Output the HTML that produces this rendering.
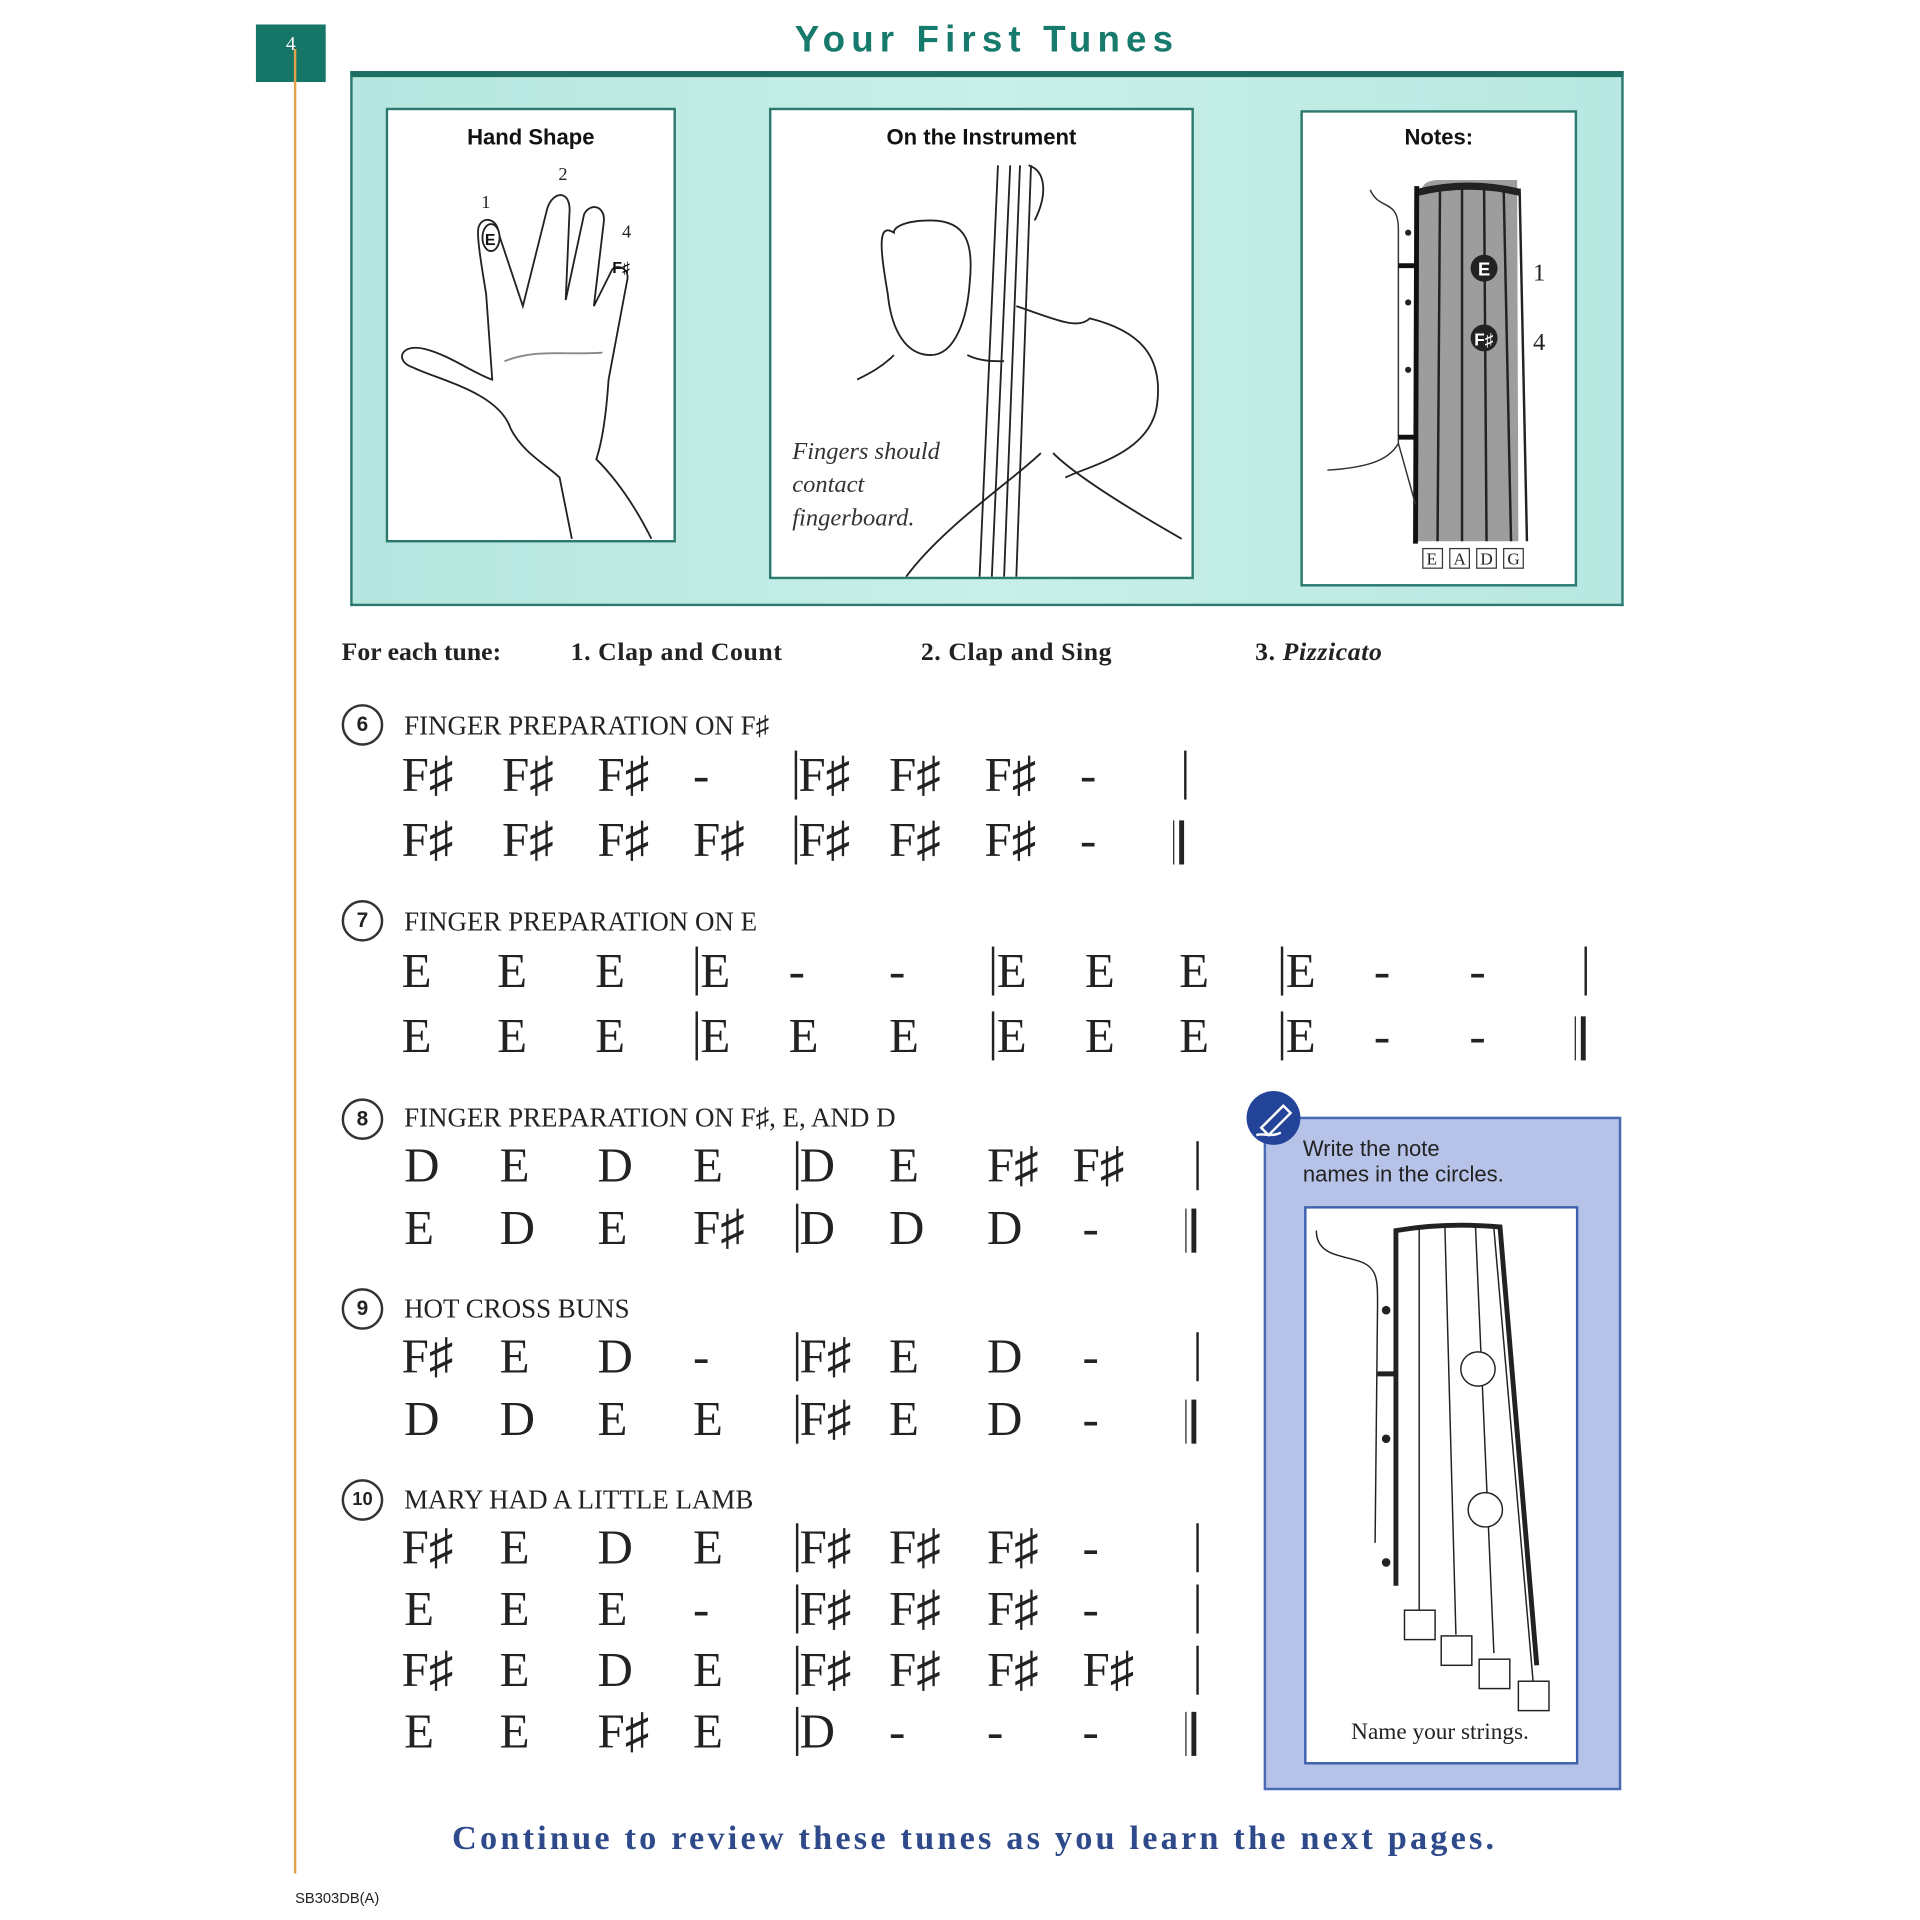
<!DOCTYPE html>
<html><head><meta charset="utf-8">
<style>
html,body{margin:0;padding:0;background:#fff;}
body{width:1920px;height:1920px;overflow:hidden;position:relative;}
#p{position:absolute;left:0;top:0;width:1568px;height:1568px;transform:scale(1.22449);transform-origin:0 0;font-family:"Liberation Serif",serif;color:#222;}
.a{position:absolute;}
.r{position:absolute;left:0;height:48px;width:1400px;font-size:40px;line-height:48px;}
.r span{position:absolute;top:0;}
.r i{position:absolute;top:4px;width:1.6px;height:40px;background:#222;}
.r b{position:absolute;top:8px;height:36px;width:4px;border-left:1.5px solid #222;}
.r b:after{content:"";position:absolute;left:4px;top:0;width:4px;height:36px;background:#222;}
.t{position:absolute;left:330px;font-size:22px;}
.c{position:absolute;left:279px;width:30px;height:30px;border:2px solid #333;border-radius:50%;font:bold 17px/30px "Liberation Sans",sans-serif;text-align:center;}
.box{position:absolute;background:#fff;border:2px solid #2a7a70;}
.h{position:absolute;width:100%;text-align:center;font:bold 18px "Liberation Sans",sans-serif;color:#111;}
</style></head><body>
<div id="p">
<div class="a" style="left:209px;top:20px;width:57px;height:47px;background:#157567;color:#fff;font-size:16px;text-align:center;line-height:34px;">4</div>
<div class="a" style="left:240px;top:40px;width:2px;height:1490px;background:#e2a24a;"></div>
<div class="a" style="left:286px;top:16px;width:1040px;text-align:center;font:bold 30px 'Liberation Sans',sans-serif;letter-spacing:5px;color:#167a6c;">Your First Tunes</div>

<div class="a" style="left:286px;top:58px;width:1036px;height:430px;border:2px solid #2a7a70;border-top:5px solid #1e6e64;background:linear-gradient(90deg,#b5e6df,#c8efe9 50%,#b8e8e1);"></div>

<div class="box" style="left:315px;top:88px;width:233px;height:351px;">
<div class="h" style="top:12px;">Hand Shape</div>
<svg class="a" style="left:0;top:0" width="233" height="351" fill="none" stroke="#222" stroke-width="1.5">
<text x="76" y="80" font-size="15" fill="#222" stroke="none" font-family="Liberation Serif">1</text>
<text x="139" y="57" font-size="15" fill="#222" stroke="none" font-family="Liberation Serif">2</text>
<text x="191" y="104" font-size="15" fill="#222" stroke="none" font-family="Liberation Serif">4</text>
<path d="M100,260 C90,230 40,220 20,210 C5,205 10,190 30,195 C50,200 70,215 85,220 L80,150 C75,120 72,100 74,95 C78,85 90,90 90,100 L110,160 L130,80 C135,65 150,65 148,85 L145,155 L160,85 C165,75 178,78 176,92 L168,160 L183,130 C188,125 198,130 195,140 L180,220 C178,250 175,270 170,285 C185,300 200,320 215,350"/>
<path d="M100,260 C110,280 130,290 140,300 L150,350"/>
<path d="M95,205 C120,195 140,200 175,198" stroke="#888"/>
<ellipse cx="84" cy="104" rx="7" ry="11" fill="#fff"/>
<text x="79" y="110" font-size="13" font-weight="bold" fill="#111" stroke="none" font-family="Liberation Sans">E</text>
<text x="183" y="133" font-size="13" font-weight="bold" fill="#111" stroke="none" font-family="Liberation Sans">F♯</text>
</svg>
</div>

<div class="box" style="left:628px;top:88px;width:343px;height:381px;">
<div class="h" style="top:12px;">On the Instrument</div>
<svg class="a" style="left:0;top:0" width="343" height="381" fill="none" stroke="#222" stroke-width="1.5">
<path d="M185,45 L170,381 M195,45 L180,381 M203,45 L190,381 M212,45 L200,381"/>
<path d="M210,45 C225,50 225,70 215,90"/>
<path d="M100,100 C85,90 90,120 95,150 C98,180 110,200 130,200 C150,200 160,170 162,140 C165,110 160,90 130,90 C110,90 100,95 100,100Z"/>
<path d="M100,200 C90,210 80,215 70,220 M160,200 C170,205 180,205 190,205 M200,160 C230,170 250,180 260,170 C300,180 320,200 315,240 C310,280 260,290 240,300 M230,280 C250,300 300,330 335,350"/>
<path d="M220,280 C200,300 140,340 110,381"/>
</svg>
<div class="a" style="left:17px;top:266px;font-style:italic;font-size:20px;line-height:27px;color:#333;">Fingers should<br>contact<br>fingerboard.</div>
</div>

<div class="box" style="left:1062px;top:90px;width:222px;height:385px;">
<div class="h" style="top:10px;">Notes:</div>
<svg class="a" style="left:0;top:0" width="222" height="385">
<path d="M94,63 C100,63 95,56 110,55 L175,55 L176,350 L92,350 Z" fill="#9d9d9d"/>
<path d="M94,62 Q135,52 177,62 L177,68 Q135,58 94,68Z" fill="#222"/>
<path d="M93,60 L92,352" stroke="#111" stroke-width="4"/>
<g stroke="#222" stroke-width="2"><line x1="112" y1="62" x2="110" y2="350"/><line x1="130" y1="60" x2="130" y2="350"/><line x1="148" y1="60" x2="150" y2="350"/><line x1="164" y1="62" x2="170" y2="350"/><line x1="177" y1="62" x2="183" y2="350"/></g>
<path d="M55,63 C62,80 78,70 78,95 L78,270 C70,285 50,290 20,292 M78,270 L92,320" stroke="#333" fill="none" stroke-width="1.2"/>
<path d="M78,125 L92,125 M78,265 L92,265" stroke="#111" stroke-width="4"/>
<g fill="#222"><circle cx="86" cy="98" r="2.5"/><circle cx="86" cy="155" r="2.5"/><circle cx="86" cy="210" r="2.5"/></g>
<circle cx="148" cy="127" r="11" fill="#222"/><text x="143" y="133" fill="#fff" font-weight="bold" font-size="15" font-family="Liberation Sans">E</text>
<circle cx="148" cy="184" r="11" fill="#222"/><text x="140" y="190" fill="#fff" font-weight="bold" font-size="14" font-family="Liberation Sans">F♯</text>
<text x="188" y="137" font-size="20" font-family="Liberation Serif" fill="#222">1</text>
<text x="188" y="194" font-size="20" font-family="Liberation Serif" fill="#222">4</text>
<g fill="#fff" stroke="#333"><rect x="98" y="356" width="16" height="16"/><rect x="120" y="356" width="16" height="16"/><rect x="142" y="356" width="16" height="16"/><rect x="164" y="356" width="16" height="16"/></g>
<g font-size="14" font-family="Liberation Serif" fill="#222"><text x="101" y="369">E</text><text x="123" y="369">A</text><text x="145" y="369">D</text><text x="167" y="369">G</text></g>
</svg>
</div>

<div class="a" style="top:520px;left:279px;font-weight:bold;font-size:21px;">For each tune:</div>
<div class="a" style="top:520px;left:466px;font-weight:bold;font-size:21px;letter-spacing:0.5px;">1. Clap and Count</div>
<div class="a" style="top:520px;left:752px;font-weight:bold;font-size:21px;letter-spacing:0.5px;">2. Clap and Sing</div>
<div class="a" style="top:520px;left:1025px;font-weight:bold;font-size:21px;letter-spacing:0.5px;">3. <i>Pizzicato</i></div>

<!-- 6 -->
<div class="c" style="top:575px;">6</div><div class="t" style="top:580px;">FINGER PREPARATION ON F♯</div>
<div class="r" style="top:609px;"><span style="left:328px">F♯</span><span style="left:410px">F♯</span><span style="left:488px">F♯</span><span style="left:566px">-</span><i style="left:649px"></i><span style="left:652px">F♯</span><span style="left:726px">F♯</span><span style="left:804px">F♯</span><span style="left:882px">-</span><i style="left:967px"></i></div>
<div class="r" style="top:662px;"><span style="left:328px">F♯</span><span style="left:410px">F♯</span><span style="left:488px">F♯</span><span style="left:566px">F♯</span><i style="left:649px"></i><span style="left:652px">F♯</span><span style="left:726px">F♯</span><span style="left:804px">F♯</span><span style="left:882px">-</span><b style="left:958px"></b></div>

<!-- 7 -->
<div class="c" style="top:735px;">7</div><div class="t" style="top:740px;">FINGER PREPARATION ON E</div>
<div class="r" style="top:769px;"><span style="left:328px">E</span><span style="left:406px">E</span><span style="left:486px">E</span><i style="left:568px"></i><span style="left:572px">E</span><span style="left:644px">-</span><span style="left:726px">-</span><i style="left:810px"></i><span style="left:814px">E</span><span style="left:886px">E</span><span style="left:963px">E</span><i style="left:1046px"></i><span style="left:1050px">E</span><span style="left:1122px">-</span><span style="left:1200px">-</span><i style="left:1294px"></i></div>
<div class="r" style="top:822px;"><span style="left:328px">E</span><span style="left:406px">E</span><span style="left:486px">E</span><i style="left:568px"></i><span style="left:572px">E</span><span style="left:644px">E</span><span style="left:726px">E</span><i style="left:810px"></i><span style="left:814px">E</span><span style="left:886px">E</span><span style="left:963px">E</span><i style="left:1046px"></i><span style="left:1050px">E</span><span style="left:1122px">-</span><span style="left:1200px">-</span><b style="left:1286px"></b></div>

<!-- 8 -->
<div class="c" style="top:897px;">8</div><div class="t" style="top:900px;">FINGER PREPARATION ON F♯, E, AND D</div>
<div class="r" style="top:928px;"><span style="left:330px">D</span><span style="left:408px">E</span><span style="left:488px">D</span><span style="left:566px">E</span><i style="left:650px"></i><span style="left:653px">D</span><span style="left:726px">E</span><span style="left:806px">F♯</span><span style="left:876px">F♯</span><i style="left:977px"></i></div>
<div class="r" style="top:979px;"><span style="left:330px">E</span><span style="left:408px">D</span><span style="left:488px">E</span><span style="left:566px">F♯</span><i style="left:650px"></i><span style="left:653px">D</span><span style="left:726px">D</span><span style="left:806px">D</span><span style="left:884px">-</span><b style="left:968px"></b></div>

<!-- 9 -->
<div class="c" style="top:1052px;">9</div><div class="t" style="top:1056px;">HOT CROSS BUNS</div>
<div class="r" style="top:1084px;"><span style="left:328px">F♯</span><span style="left:408px">E</span><span style="left:488px">D</span><span style="left:566px">-</span><i style="left:650px"></i><span style="left:653px">F♯</span><span style="left:726px">E</span><span style="left:806px">D</span><span style="left:884px">-</span><i style="left:977px"></i></div>
<div class="r" style="top:1135px;"><span style="left:330px">D</span><span style="left:408px">D</span><span style="left:488px">E</span><span style="left:566px">E</span><i style="left:650px"></i><span style="left:653px">F♯</span><span style="left:726px">E</span><span style="left:806px">D</span><span style="left:884px">-</span><b style="left:968px"></b></div>

<!-- 10 -->
<div class="c" style="top:1208px;font-size:15px;">10</div><div class="t" style="top:1212px;">MARY HAD A LITTLE LAMB</div>
<div class="r" style="top:1240px;"><span style="left:328px">F♯</span><span style="left:408px">E</span><span style="left:488px">D</span><span style="left:566px">E</span><i style="left:650px"></i><span style="left:653px">F♯</span><span style="left:726px">F♯</span><span style="left:806px">F♯</span><span style="left:884px">-</span><i style="left:977px"></i></div>
<div class="r" style="top:1290px;"><span style="left:330px">E</span><span style="left:408px">E</span><span style="left:488px">E</span><span style="left:566px">-</span><i style="left:650px"></i><span style="left:653px">F♯</span><span style="left:726px">F♯</span><span style="left:806px">F♯</span><span style="left:884px">-</span><i style="left:977px"></i></div>
<div class="r" style="top:1340px;"><span style="left:328px">F♯</span><span style="left:408px">E</span><span style="left:488px">D</span><span style="left:566px">E</span><i style="left:650px"></i><span style="left:653px">F♯</span><span style="left:726px">F♯</span><span style="left:806px">F♯</span><span style="left:884px">F♯</span><i style="left:977px"></i></div>
<div class="r" style="top:1390px;"><span style="left:330px">E</span><span style="left:408px">E</span><span style="left:488px">F♯</span><span style="left:566px">E</span><i style="left:650px"></i><span style="left:653px">D</span><span style="left:726px">-</span><span style="left:806px">-</span><span style="left:884px">-</span><b style="left:968px"></b></div>

<!-- blue box -->
<div class="a" style="left:1032px;top:912px;width:288px;height:546px;background:#b6c2e7;border:2px solid #4a6ab4;"></div>
<div class="a" style="left:1018px;top:891px;width:44px;height:44px;border-radius:50%;background:#24449a;"></div>
<svg class="a" style="left:1018px;top:891px" width="44" height="44" fill="none" stroke="#fff" stroke-width="2"><path d="M12,30 L30,12 L36,18 L18,36 Z M8,36 C14,34 20,38 28,34"/></svg>
<div class="a" style="left:1064px;top:928px;font:18px/21px 'Liberation Sans',sans-serif;color:#222;">Write the note<br>names in the circles.</div>
<div class="a" style="left:1065px;top:985px;width:220px;height:452px;background:#fff;border:2px solid #3d5fae;"></div>
<svg class="a" style="left:1065px;top:985px" width="222" height="454" fill="none" stroke="#222">
<path d="M75,310 L75,20 Q115,13 160,17 L190,375" stroke-width="4"/>
<path d="M10,20 C10,40 30,40 45,45 C60,50 60,60 60,80 L58,275" stroke-width="1.2"/>
<path d="M60,137 L75,137" stroke-width="4"/>
<g fill="#222" stroke="none"><circle cx="67" cy="85" r="3.5"/><circle cx="67" cy="190" r="3.5"/><circle cx="67" cy="291" r="3.5"/></g>
<g stroke-width="1.2"><line x1="94" y1="18" x2="94" y2="330"/><line x1="115" y1="17" x2="124" y2="350"/><line x1="140" y1="17" x2="155" y2="365"/><line x1="155" y1="18" x2="187" y2="388"/></g>
<circle cx="142" cy="133" r="14" fill="#fff" stroke-width="1.2"/>
<circle cx="148" cy="248" r="14" fill="#fff" stroke-width="1.2"/>
<g fill="#fff" stroke-width="1.2"><rect x="82" y="330" width="25" height="24"/><rect x="112" y="351" width="25" height="24"/><rect x="143" y="370" width="25" height="24"/><rect x="175" y="388" width="25" height="24"/></g>
</svg>
<div class="a" style="left:1065px;top:1404px;width:222px;text-align:center;font-size:19px;color:#222;">Name your strings.</div>

<div class="a" style="left:236px;top:1486px;width:1120px;text-align:center;font-weight:bold;font-size:28px;letter-spacing:2.6px;color:#2e4a8a;">Continue to review these tunes as you learn the next pages.</div>
<div class="a" style="left:241px;top:1543px;font:12px 'Liberation Sans',sans-serif;color:#222;">SB303DB(A)</div>
</div>
</body></html>
